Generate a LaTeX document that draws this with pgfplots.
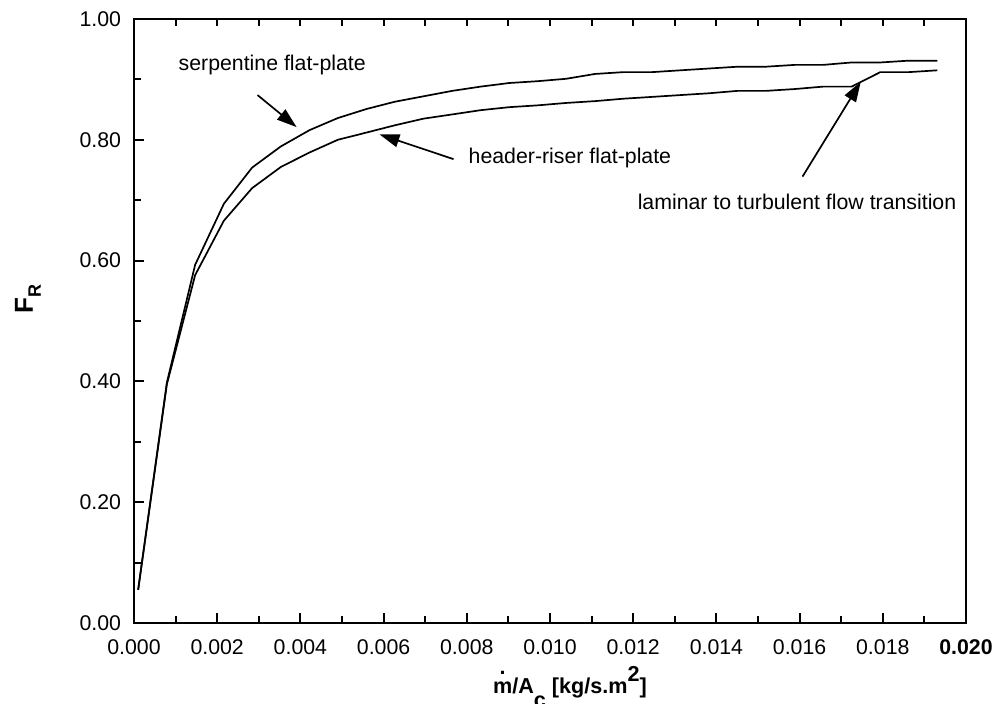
\documentclass[border=0pt]{standalone}
\usepackage{fontspec}
\setmainfont{Liberation Sans}
\usepackage{pgfplots}
\usepackage{pgfplotstable}
\pgfplotsset{compat=1.18}
\usetikzlibrary{arrows.meta}

\pgfplotstableread{
x y
0.00010 0.055
0.00079 0.398
0.00147 0.593
0.00216 0.694
0.00284 0.754
0.00353 0.789
0.00422 0.816
0.00490 0.836
0.00559 0.851
0.00627 0.863
0.00696 0.872
0.00765 0.881
0.00833 0.888
0.00902 0.894
0.00970 0.897
0.01039 0.901
0.01108 0.909
0.01176 0.912
0.01245 0.912
0.01313 0.915
0.01382 0.918
0.01451 0.921
0.01519 0.921
0.01588 0.924
0.01656 0.924
0.01725 0.928
0.01794 0.928
0.01862 0.931
0.01931 0.931
}\serp

\pgfplotstableread{
x y
0.00010 0.055
0.00079 0.395
0.00147 0.576
0.00216 0.666
0.00284 0.720
0.00353 0.755
0.00422 0.779
0.00490 0.800
0.00559 0.812
0.00627 0.824
0.00696 0.835
0.00765 0.842
0.00833 0.849
0.00902 0.854
0.00970 0.857
0.01039 0.861
0.01108 0.864
0.01176 0.868
0.01245 0.871
0.01313 0.874
0.01382 0.877
0.01451 0.881
0.01519 0.881
0.01588 0.884
0.01656 0.888
0.01725 0.888
0.01794 0.912
0.01862 0.912
0.01931 0.915
}\header

\begin{document}
\fontsize{10.65}{12.8}\selectfont
\begin{tikzpicture}
\useasboundingbox (-67pt,-40.5pt) rectangle (430.5pt,311.5pt);
\begin{axis}[
  at={(0,0)}, anchor=origin,
  scale only axis, width=416pt, height=302pt,
  xmin=0, xmax=0.02, ymin=0, ymax=1,
  scaled x ticks=false, scaled y ticks=false,
  xtick={0,0.002,0.004,0.006,0.008,0.010,0.012,0.014,0.016,0.018,0.020},
  xticklabels={0.000,0.002,0.004,0.006,0.008,0.010,0.012,0.014,0.016,0.018,\textbf{0.020}},
  ytick={0,0.2,0.4,0.6,0.8,1},
  yticklabels={0.00,0.20,0.40,0.60,0.80,1.00},
  minor x tick num=1, minor y tick num=1,
  xtick pos=bottom, ytick pos=left,
  tick align=inside,
  major tick length=5pt, minor tick length=3.3pt,
  tick style={black, line width=1pt},
  axis line style={line width=1.15pt},
  xticklabel style={yshift=-4.7pt},
  yticklabel style={xshift=-2.7pt},
  clip=false,
]
\addplot[black, line width=0.85pt, line join=round] table[x=x,y=y]{\serp};
\addplot[black, line width=0.85pt, line join=round] table[x=x,y=y]{\header};

\draw[-{Triangle[length=10pt,width=6.5pt]}, line width=0.85pt] (axis cs:0.00297,0.874) -- (axis cs:0.00391,0.821);
\draw[-{Triangle[length=10pt,width=6.5pt]}, line width=0.85pt] (axis cs:0.00768,0.768) -- (axis cs:0.0059,0.809);
\draw[-{Triangle[length=10pt,width=6.5pt]}, line width=0.85pt] (axis cs:0.01607,0.739) -- (axis cs:0.01747,0.896);

\node[anchor=base west, inner sep=0] at (axis cs:0.001065,0.9144) {serpentine flat-plate};
\node[anchor=base west, inner sep=0] at (axis cs:0.008036,0.761) {header-riser flat-plate};
\node[anchor=base west, inner sep=0] at (axis cs:0.0121,0.684) {laminar to turbulent flow transition};

\node[anchor=base, inner sep=0, font=\bfseries\fontsize{10.8}{13}\selectfont] at ([yshift=-35.5pt]axis description cs:0.524,0)
  {\ooalign{m\cr\hidewidth\raisebox{0.92em}{.}\hidewidth\cr}/A\raisebox{-0.62em}{c} [kg/s.m\raisebox{0.6em}{2}]};
\node[rotate=90, anchor=base west, inner sep=0, font=\bfseries\fontsize{13}{15}\selectfont] at ([xshift=-50.5pt]axis description cs:0,0.5116)
  {F\raisebox{-0.3em}{\fontsize{9}{10}\selectfont R}};
\end{axis}
\begin{axis}[
  at={(0,0)}, anchor=origin,
  scale only axis, width=416pt, height=302pt,
  xmin=0, xmax=0.02, ymin=0, ymax=1,
  scaled x ticks=false,
  axis x line*=top, hide y axis,
  x axis line style={-, line width=1.15pt},
  xtick={0.001,0.002,0.003,0.004,0.005,0.006,0.007,0.008,0.009,0.010,0.011,0.012,0.013,0.014,0.015,0.016,0.017,0.018,0.019},
  xticklabels={},
  tick align=inside,
  major tick length=3.3pt,
  tick style={black, line width=1pt},
]
\end{axis}
\end{tikzpicture}
\end{document}
